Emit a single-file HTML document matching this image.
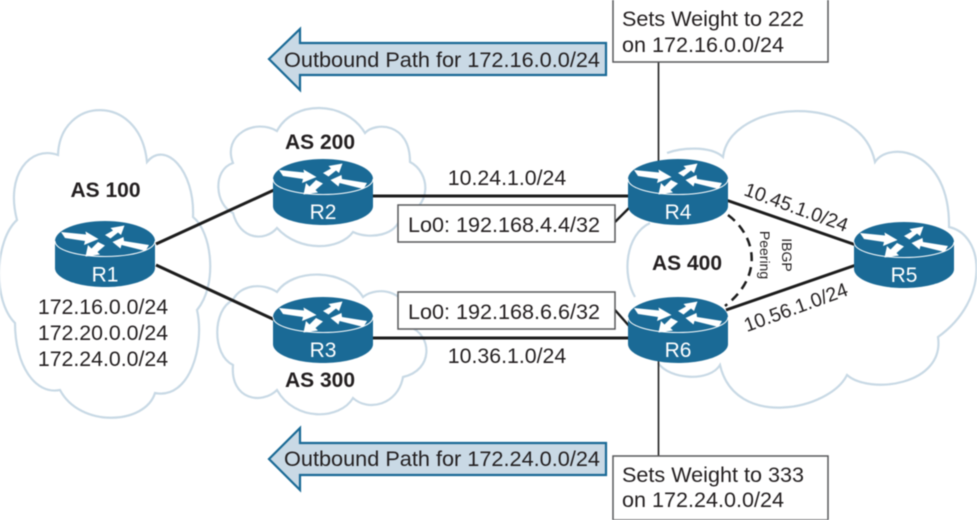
<!DOCTYPE html>
<html>
<head>
<meta charset="utf-8">
<style>
html,body{margin:0;padding:0;background:#fff;width:977px;height:520px;overflow:hidden}
svg{display:block;filter:blur(.4px)}
text{font-family:"Liberation Sans",sans-serif;fill:#231f20;font-size:21.3px}
.b{font-weight:bold;font-size:21px}
.w{fill:#fff;font-size:21px;text-anchor:middle}
.m{text-anchor:middle}
.c{fill:none;stroke:#c8d9e5;stroke-width:2.2}
.l{stroke:#1c1c1c;stroke-width:3;fill:none}
.box{fill:#fff;stroke:#58595b;stroke-width:1.5}
.arr{fill:#c9d9e5;stroke:#1a6a96;stroke-width:2.2}
</style>
</head>
<body>
<svg width="977" height="520" viewBox="0 0 977 520" xmlns="http://www.w3.org/2000/svg">
<defs>
<g id="rt">
<path d="M0,20V47C0,57.5 22.4,66 50,66S100,57.5 100,47V20Z" fill="#1a6a96"/>
<ellipse cx="50" cy="20" rx="50" ry="20" fill="#1a6a96"/>
<path d="M0,20C0,29 22.4,35.5 50,35.5S100,29 100,20" fill="none" stroke="#fff" stroke-width="1"/>
<path d="M6,11L31,13.5L30.5,10.5L43.5,18L29,24L30,20L10,17Z" fill="#fff"/>
<path d="M50,14L58,9.5L55.5,7L69.5,4.5L66,14L63,11.5L55.5,17.5Z" fill="#fff"/>
<path d="M57.5,21L68.5,16L69,20L94,24L90.5,30L66.5,24L65.5,27.5Z" fill="#fff"/>
<path d="M30.5,35.5L33,24L36.5,27.5L43,21L50,24.5L42.5,31L45,33.5Z" fill="#fff"/>
</g>
</defs>

<path class="c" d="M58,155C60,96 140,92 147,162C165,140 195,170 193,217C212,232 218,285 197,310C205,345 190,400 155,393C145,425 80,428 60,390C35,395 15,365 15,323C-8,300 -5,240 17,220C5,175 30,145 58,155Z"/>
<path class="c" d="M233,163C222,135 255,118 277,131C293,100 345,100 365,133C375,122 410,122 410,162C430,172 434,208 400,217C398,235 370,240 353,232C340,250 300,253 277,228C265,242 240,240 233,213C215,205 212,170 233,163Z"/>
<path class="c" d="M277,292C293,268 345,268 363,297C378,285 412,290 410,327C432,335 434,370 403,377C398,405 368,412 353,398C340,420 295,422 277,390C262,405 230,400 233,365C212,355 212,310 233,300C240,285 262,282 277,292Z"/>
<path class="c" d="M667,153C680,148 710,145 723,157C730,100 860,90 875,162C890,140 950,150 949,227C985,235 990,300 938,337C945,385 870,395 847,375C830,410 735,430 720,365C710,382 670,380 658,363"/>
<path class="c" d="M635,297C622,275 625,235 650,223"/>

<line x1="658.5" y1="60" x2="658.5" y2="165" stroke="#1c1c1c" stroke-width="1.6"/>
<line x1="658.5" y1="355" x2="658.5" y2="458" stroke="#1c1c1c" stroke-width="1.6"/>

<path class="l" d="M156,244L274,190"/>
<path class="l" d="M156,265L275,320"/>
<path class="l" d="M370,196H630"/>
<path class="l" d="M370,338H630"/>
<path class="l" d="M726,200L856,245"/>
<path class="l" d="M726,310L856,265"/>
<path d="M615,222L630,207" stroke="#1c1c1c" stroke-width="2.4" fill="none"/>
<path d="M615,310L630,327" stroke="#1c1c1c" stroke-width="2.4" fill="none"/>
<path d="M728,215C755,235 765,275 725,306" fill="none" stroke="#1c1c1c" stroke-width="2.5" stroke-dasharray="9 6"/>

<use href="#rt" x="55" y="221"/>
<use href="#rt" x="273" y="159"/>
<use href="#rt" x="273" y="297"/>
<use href="#rt" x="628" y="159"/>
<use href="#rt" x="628" y="297"/>
<use href="#rt" x="854" y="222"/>

<text class="w" x="105" y="281.5">R1</text>
<text class="w" x="323" y="219">R2</text>
<text class="w" x="323" y="357">R3</text>
<text class="w" x="678" y="219">R4</text>
<text class="w" x="678" y="357">R6</text>
<text class="w" x="904" y="282">R5</text>

<rect class="box" x="398" y="205" width="217" height="37"/>
<rect class="box" x="398" y="292" width="217" height="37"/>
<rect class="box" x="613" y="-2" width="215" height="64"/>
<rect class="box" x="613" y="456" width="215" height="64"/>

<path class="arr" d="M269,59L300,29V43H606V75H300V90Z"/>
<path class="arr" d="M269,459L300,428V443H606V475H300V490Z"/>

<text x="284" y="67" textLength="316" lengthAdjust="spacingAndGlyphs">Outbound Path for 172.16.0.0/24</text>
<text x="284" y="466" textLength="316" lengthAdjust="spacingAndGlyphs">Outbound Path for 172.24.0.0/24</text>

<text x="622" y="26" textLength="182" lengthAdjust="spacingAndGlyphs">Sets Weight to 222</text>
<text x="622" y="52" textLength="162" lengthAdjust="spacingAndGlyphs">on 172.16.0.0/24</text>
<text x="622" y="482" textLength="182" lengthAdjust="spacingAndGlyphs">Sets Weight to 333</text>
<text x="622" y="507" textLength="162" lengthAdjust="spacingAndGlyphs">on 172.24.0.0/24</text>

<text x="408" y="232" textLength="192" lengthAdjust="spacingAndGlyphs">Lo0: 192.168.4.4/32</text>
<text x="408" y="319" textLength="192" lengthAdjust="spacingAndGlyphs">Lo0: 192.168.6.6/32</text>

<text class="m" x="507" y="185">10.24.1.0/24</text>
<text class="m" x="507" y="363">10.36.1.0/24</text>

<text class="b m" x="105.5" y="197">AS 100</text>
<text class="b m" x="320" y="149">AS 200</text>
<text class="b m" x="320" y="387">AS 300</text>
<text class="b m" x="687" y="270">AS 400</text>

<text class="m" x="103" y="314">172.16.0.0/24</text>
<text class="m" x="103" y="340">172.20.0.0/24</text>
<text class="m" x="103" y="366">172.24.0.0/24</text>

<text class="m" style="font-size:19.6px" transform="translate(794,213.5) rotate(20)">10.45.1.0/24</text>
<text class="m" style="font-size:19.6px" transform="translate(798,313.5) rotate(-20)">10.56.1.0/24</text>

<text class="m" style="font-size:14px" transform="translate(782,255) rotate(90)">IBGP</text>
<text class="m" style="font-size:14px" transform="translate(760,255) rotate(90)">Peering</text>
</svg>
</body>
</html>
